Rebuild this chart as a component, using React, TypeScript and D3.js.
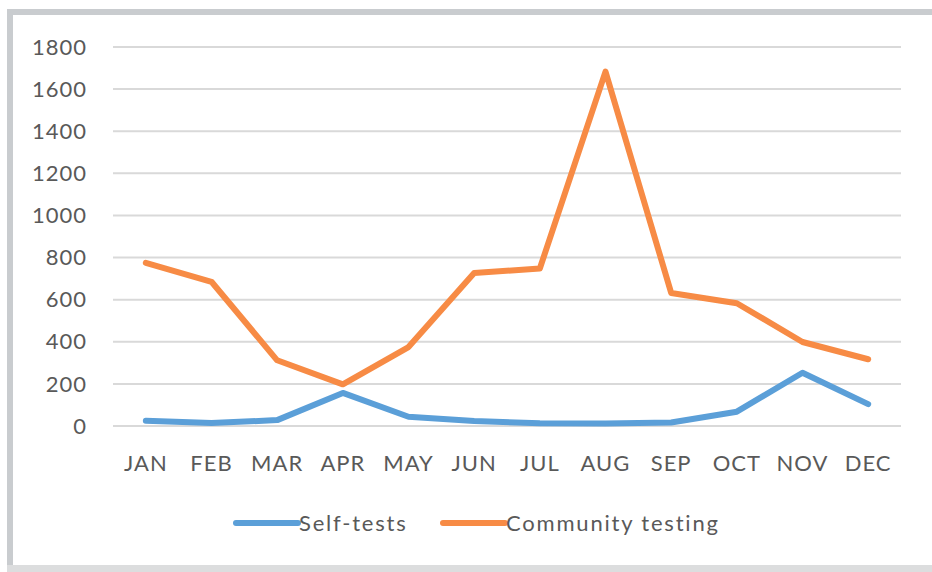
import React, { useEffect, useRef } from 'react';
import * as d3 from 'd3';

const months = ['JAN', 'FEB', 'MAR', 'APR', 'MAY', 'JUN', 'JUL', 'AUG', 'SEP', 'OCT', 'NOV', 'DEC'];
const selfTests = [25, 14, 28, 157, 44, 24, 13, 12, 17, 68, 253, 104];
const communityTesting = [775, 685, 312, 198, 375, 727, 748, 1683, 632, 583, 399, 317];
const yTicks = [0, 200, 400, 600, 800, 1000, 1200, 1400, 1600, 1800];
const seriesNames = ['Self-tests', 'Community testing'];
const seriesColors = ['#5B9FD8', '#F78B45'];

const W = 932;
const H = 572;
const FONT = 'Lato, "Open Sans", sans-serif';

export default function App() {
  const ref = useRef<SVGSVGElement>(null);

  useEffect(() => {
    const svg = d3.select(ref.current);
    svg.selectAll('*').remove();

    const x = d3.scaleBand().domain(months).range([113, 901]);
    const y = d3.scaleLinear().domain([0, 1800]).range([426, 47]);

    // frame
    svg.append('rect').attr('x', 0).attr('y', 0).attr('width', W).attr('height', H).attr('fill', '#fff');
    svg.append('rect').attr('x', 7).attr('y', 9).attr('width', W - 7).attr('height', 6).attr('fill', '#C9CCCF');
    svg.append('rect').attr('x', 7).attr('y', 9).attr('width', 6).attr('height', H - 9).attr('fill', '#C9CCCF');
    svg.append('rect').attr('x', 7).attr('y', 565).attr('width', W - 7).attr('height', 7).attr('fill', '#DCDDDE');

    // gridlines
    svg.append('g')
      .selectAll('line')
      .data(yTicks)
      .enter()
      .append('line')
      .attr('x1', 113)
      .attr('x2', 901)
      .attr('y1', (d) => y(d))
      .attr('y2', (d) => y(d))
      .attr('stroke', '#D9D9D9')
      .attr('stroke-width', 2);

    // y labels
    svg.append('g')
      .selectAll('text')
      .data(yTicks)
      .enter()
      .append('text')
      .attr('x', 87)
      .attr('y', (d) => y(d))
      .attr('dy', '0.35em')
      .attr('text-anchor', 'end')
      .attr('font-family', FONT)
      .attr('font-size', 22)
      .attr('letter-spacing', 1)
      .attr('fill', '#595959')
      .text((d) => d);

    // x labels
    svg.append('g')
      .selectAll('text')
      .data(months)
      .enter()
      .append('text')
      .attr('x', (d) => (x(d) as number) + x.bandwidth() / 2)
      .attr('y', 463)
      .attr('dy', '0.35em')
      .attr('text-anchor', 'middle')
      .attr('font-family', FONT)
      .attr('font-size', 22)
      .attr('letter-spacing', 1)
      .attr('fill', '#595959')
      .text((d) => d);

    const line = d3.line<number>()
      .x((d, i) => (x(months[i]) as number) + x.bandwidth() / 2)
      .y((d) => y(d));

    [selfTests, communityTesting].forEach((s, i) => {
      svg.append('path')
        .datum(s)
        .attr('d', line)
        .attr('fill', 'none')
        .attr('stroke', seriesColors[i])
        .attr('stroke-width', 6)
        .attr('stroke-linejoin', 'round')
        .attr('stroke-linecap', 'round');
    });

    // legend
    const legendX = [236, 443];
    seriesNames.forEach((name, i) => {
      const g = svg.append('g').attr('transform', `translate(${legendX[i]},523)`);
      g.append('line')
        .attr('x1', 0)
        .attr('x2', 62)
        .attr('stroke', seriesColors[i])
        .attr('stroke-width', 6)
        .attr('stroke-linecap', 'round');
      g.append('text')
        .attr('x', 63)
        .attr('dy', '0.35em')
        .attr('font-family', FONT)
        .attr('font-size', 22)
        .attr('letter-spacing', 1.8)
        .attr('fill', '#595959')
        .text(name);
    });
  }, []);

  return (
    <svg
      ref={ref}
      width={W}
      height={H}
      style={{ position: 'absolute', left: 0, top: 0, display: 'block' }}
    />
  );
}
